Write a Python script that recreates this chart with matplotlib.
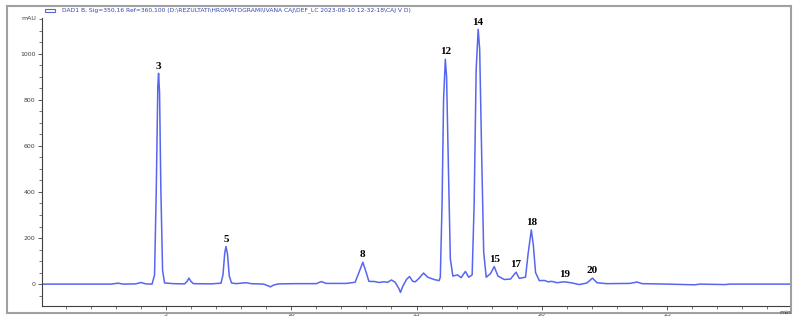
import matplotlib.pyplot as plt
from matplotlib.patches import Rectangle
from matplotlib.ticker import MultipleLocator

# retention time (min) and signal (mAU)
time_min = [0.0, 2.8, 3.1, 3.3, 3.8, 4.0, 4.2, 4.45, 4.55, 4.62, 4.68, 4.71, 4.75, 4.80,
            4.87, 4.95, 5.3, 5.75, 5.85, 5.92, 6.0, 6.1, 6.8, 7.2, 7.28, 7.35, 7.40, 7.46,
            7.53, 7.62, 7.8, 8.2, 8.4, 8.9, 9.1, 9.17, 9.3, 9.5, 10.2, 11.0, 11.2, 11.4,
            12.2, 12.55, 12.72, 12.86, 12.98, 13.1, 13.35, 13.5, 13.7, 13.85, 14.0, 14.15,
            14.3, 14.36, 14.45, 14.6, 14.72, 14.85, 14.95, 15.1, 15.28, 15.45, 15.7, 15.9,
            15.95, 16.02, 16.08, 16.15, 16.2, 16.27, 16.35, 16.45, 16.64, 16.78, 16.95,
            17.08, 17.22, 17.3, 17.38, 17.46, 17.52, 17.6, 17.68, 17.78, 17.95, 18.1,
            18.25, 18.5, 18.75, 18.97, 19.1, 19.35, 19.45, 19.58, 19.66, 19.75, 19.9,
            20.1, 20.25, 20.4, 20.6, 20.9, 21.2, 21.5, 21.8, 22.02, 22.2, 22.6, 23.5,
            23.8, 24.0, 25.0, 26.1, 26.3, 27.3, 27.5, 29.9]
signal_mau = [0, 0, 4, 0, 1, 7, 1, 0, 40, 420, 860, 915, 830, 420,
              60, 5, 2, 1, 12, 26, 12, 2, 1, 4, 40, 135, 163, 130,
              35, 5, 2, 6, 2, 0, -8, -12, -4, 1, 2, 2, 11, 3,
              3, 8, 55, 95, 55, 12, 11, 7, 10, 8, 18, 8,
              -20, -36, -10, 20, 33, 12, 10, 25, 48, 30, 20, 15,
              30, 350, 800, 976, 900, 520, 110, 35, 40, 28, 55,
              30, 40, 350, 930, 1106, 1020, 560, 140, 30, 45, 76,
              35, 20, 22, 52, 25, 30, 130, 235, 170, 50, 15,
              16, 10, 12, 6, 10, 5, -2, 5, 26, 6, 2, 3,
              9, 2, 0, -3, 0, -2, 0, 0]

# peak labels
peak_names = ['3', '5', '8', '12', '14', '15', '17', '18', '19', '20']
peak_times = [4.71, 7.40, 12.86, 16.15, 17.46, 18.12, 18.97, 19.58, 20.9, 22.02]
peak_heights = [915, 163, 95, 976, 1106, 76, 52, 235, 10, 26]

legend_text = ('DAD1 B, Sig=350,16 Ref=360,100 (D:\\REZULTATI\\HROMATOGRAMI\\IVANA CAJ'
               '\\DEF_LC 2023-08-10 12-32-18\\CAJ V D)')

W, H = 796, 320
fig = plt.figure(figsize=(W / 100, H / 100), dpi=100)
ax = fig.add_axes([42 / W, (H - 306) / H, (790 - 42) / W, (306 - 18) / H])

ax.plot(time_min, signal_mau, color='#4455ee', lw=1.1, alpha=0.9)
ax.set_xlim(0.06, 29.9)
ax.set_ylim(-95, 1155)

for name, t, h in zip(peak_names, peak_times, peak_heights):
    ax.annotate(name, (t, h), xytext=(0, 2), textcoords='offset points',
                ha='center', va='bottom', fontsize=8, fontweight='bold',
                family='Liberation Serif', color='black')

for s in ['top', 'right']:
    ax.spines[s].set_visible(False)
for s in ['left', 'bottom']:
    ax.spines[s].set_color('#404040')
    ax.spines[s].set_linewidth(0.8)

ax.xaxis.set_major_locator(MultipleLocator(5))
ax.xaxis.set_minor_locator(MultipleLocator(1))
ax.yaxis.set_major_locator(MultipleLocator(200))
ax.yaxis.set_minor_locator(MultipleLocator(50))
ax.set_xticks([5, 10, 15, 20, 25])
ax.tick_params(which='major', length=3, width=0.6, labelsize=4.5, pad=1.5,
               colors='#404040')
ax.tick_params(which='minor', length=2, width=0.5, colors='#404040')

fig.text(785 / W, 1 - 312 / H, 'min', fontsize=4.5, color='#404040', ha='center', va='center')
fig.text(29 / W, 1 - 18 / H, 'mAU', fontsize=4.5, color='#404040', ha='center', va='center')

# outer frame
fig.add_artist(Rectangle((7 / W, 1 - 313 / H), (791 - 7) / W, (313 - 6) / H,
                         transform=fig.transFigure, fill=False, ec='#a0a0a0', lw=1.5))

# legend line
fig.add_artist(Rectangle((45 / W, 1 - 12 / H), 10 / W, 3 / H, transform=fig.transFigure,
                         fill=False, ec='#5566cc', lw=0.8))
fig.text(62 / W, 1 - 10.5 / H, legend_text, fontsize=4.3, color='#3344aa', va='center')

plt.savefig('out.png', dpi=100)
